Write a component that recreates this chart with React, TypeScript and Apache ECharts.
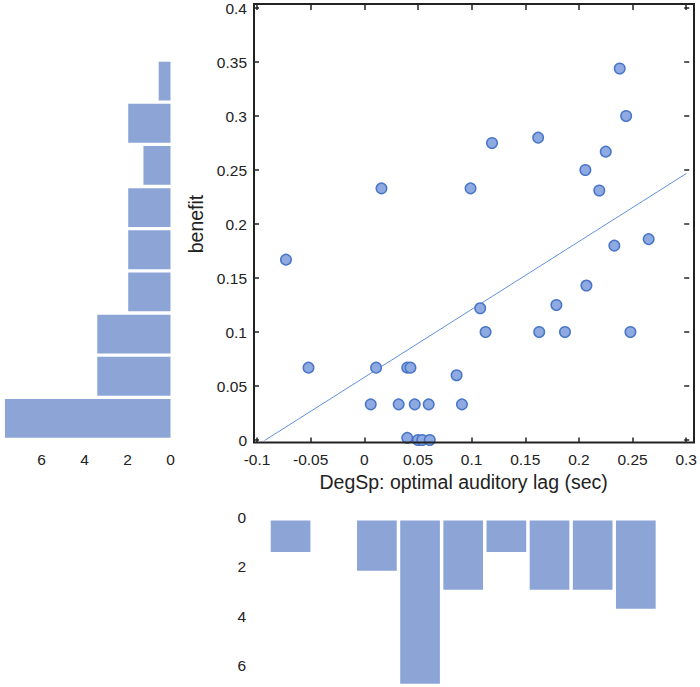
import React, { useEffect, useRef } from "react";
import * as echarts from "echarts";

// Scatter data: DegSp optimal auditory lag (sec) vs benefit
const lagX = [
  0.016, 0.099, 0.119, 0.162, 0.206, 0.219, 0.225, 0.238, 0.244, 0.265,
  -0.073, 0.233, 0.207, 0.179, 0.108, 0.113, 0.163, 0.187, 0.248,
  -0.052, 0.011, 0.040, 0.043, 0.086,
  0.006, 0.032, 0.047, 0.060, 0.091,
  0.040, 0.050, 0.054, 0.061,
];
const benefitY = [
  0.233, 0.233, 0.275, 0.280, 0.250, 0.231, 0.267, 0.344, 0.300, 0.186,
  0.167, 0.180, 0.143, 0.125, 0.122, 0.100, 0.100, 0.100, 0.100,
  0.067, 0.067, 0.067, 0.067, 0.060,
  0.033, 0.033, 0.033, 0.033, 0.033,
  0.002, 0.000, 0.000, 0.000,
];

// Least-squares line
const fitSlope = 0.629;
const fitIntercept = 0.058;
const fitXRange = [-0.1, 0.3];

// Left histogram (benefit bins, from low to high)
const benefitBins = ["0.02", "0.06", "0.10", "0.14", "0.18", "0.21", "0.25", "0.29", "0.33"];
const benefitHist = [7.71, 3.41, 3.41, 1.97, 1.97, 1.97, 1.26, 1.97, 0.55];

// Bottom histogram (lag bins, from low to high)
const lagBins = ["-0.07", "-0.03", "0.01", "0.05", "0.09", "0.13", "0.17", "0.21", "0.25"];
const lagHist = [1.27, 0, 2.03, 6.58, 2.79, 1.27, 2.79, 2.79, 3.56];

// Tick settings
const xTicks = { min: -0.1, max: 0.3, interval: 0.05 };
const yTicks = { min: 0, max: 0.4, interval: 0.05 };

const FONT = "Liberation Sans";
const TXT = "#222222";
const BAR = "#8ca5d6";

export default function App() {
  const ref = useRef<HTMLDivElement>(null);
  useEffect(() => {
    if (!ref.current) return;
    const chart = echarts.init(ref.current, null, { renderer: "svg" });
    const evenLabel = (v: number) =>
      Math.abs(v - Math.round(v)) < 1e-9 && Math.round(v) % 2 === 0 ? String(Math.round(v)) : "";
    const tickInside = { show: true, inside: true, length: 5, lineStyle: { color: TXT, width: 1.5 } };
    const noLine = { show: false, onZero: false };
    const lbl = { color: TXT, fontFamily: FONT, fontSize: 15.5 };
    const nameStyle = { color: TXT, fontFamily: FONT, fontSize: 19.5 };
    const option: any = {
      animation: false,
      backgroundColor: "#ffffff",
      textStyle: { fontFamily: FONT },
      graphic: [
        {
          type: "rect",
          shape: { x: 254, y: 4, width: 440, height: 438.5 },
          style: { fill: "none", stroke: TXT, lineWidth: 2 },
          z: 10,
        },
      ],
      grid: [
        { left: 257, right: 9, top: 7, bottom: 247 },
        { left: 2, right: 529.5, top: 60, bottom: 247.5 },
        { left: 269, right: 42.6, top: 520.5, bottom: 2.8 },
      ],
      xAxis: [
        {
          type: "value",
          gridIndex: 0,
          min: xTicks.min,
          max: xTicks.max,
          interval: xTicks.interval,
          position: "bottom",
          offset: 2.5,
          axisLine: noLine,
          axisTick: tickInside,
          splitLine: { show: false },
          axisLabel: { ...lbl, margin: 9 },
          name: "DegSp: optimal auditory lag (sec)",
          nameLocation: "middle",
          nameGap: 26,
          nameTextStyle: { ...nameStyle, padding: [0, 16, 0, 0] },
        },
        {
          type: "value",
          gridIndex: 0,
          min: xTicks.min,
          max: xTicks.max,
          interval: xTicks.interval,
          position: "top",
          offset: 3,
          axisLine: noLine,
          axisTick: tickInside,
          splitLine: { show: false },
          axisLabel: { show: false },
        },
        {
          type: "value",
          gridIndex: 1,
          min: 0,
          max: 7.8,
          interval: 2,
          inverse: true,
          position: "bottom",
          axisLine: noLine,
          axisTick: { show: false },
          splitLine: { show: false },
          axisLabel: { ...lbl, margin: 12, formatter: evenLabel },
        },
        {
          type: "category",
          gridIndex: 2,
          data: lagBins,
          show: false,
          axisLine: noLine,
        },
      ],
      yAxis: [
        {
          type: "value",
          gridIndex: 0,
          min: yTicks.min,
          max: yTicks.max,
          interval: yTicks.interval,
          position: "left",
          offset: 3,
          axisLine: noLine,
          axisTick: tickInside,
          splitLine: { show: false },
          axisLabel: { ...lbl, margin: 7 },
          name: "benefit",
          nameLocation: "middle",
          nameGap: 40,
          nameRotate: 90,
          nameTextStyle: nameStyle,
        },
        {
          type: "value",
          gridIndex: 0,
          min: yTicks.min,
          max: yTicks.max,
          interval: yTicks.interval,
          position: "right",
          offset: 3,
          axisLine: noLine,
          axisTick: tickInside,
          splitLine: { show: false },
          axisLabel: { show: false },
        },
        {
          type: "category",
          gridIndex: 1,
          data: benefitBins,
          show: false,
          axisLine: noLine,
        },
        {
          type: "value",
          gridIndex: 2,
          min: 0,
          max: 6.6,
          interval: 2,
          inverse: true,
          axisLine: noLine,
          axisTick: { show: false },
          splitLine: { show: false },
          axisLabel: {
            ...lbl,
            margin: 23,
            verticalAlign: "bottom",
            lineHeight: 7,
            formatter: evenLabel,
          },
        },
      ],
      series: [
        {
          type: "line",
          xAxisIndex: 0,
          yAxisIndex: 0,
          data: fitXRange.map((x) => [x, fitIntercept + fitSlope * x]),
          showSymbol: false,
          symbol: "none",
          clip: true,
          lineStyle: { color: "#6290dc", width: 1 },
          z: 2,
        },
        {
          type: "scatter",
          xAxisIndex: 0,
          yAxisIndex: 0,
          data: lagX.map((x, i) => [x, benefitY[i]]),
          symbol: "circle",
          symbolSize: 10.5,
          clip: false,
          itemStyle: { color: "#8eaae0", borderColor: "#4a76c9", borderWidth: 1.5, opacity: 1 },
          z: 3,
        },
        {
          type: "bar",
          xAxisIndex: 2,
          yAxisIndex: 2,
          data: benefitHist,
          barCategoryGap: "8%",
          itemStyle: { color: BAR },
        },
        {
          type: "bar",
          xAxisIndex: 3,
          yAxisIndex: 3,
          data: lagHist,
          barCategoryGap: "8%",
          itemStyle: { color: BAR },
        },
      ],
    };
    chart.setOption(option);
    return () => chart.dispose();
  }, []);
  return (
    <div
      ref={ref}
      style={{ position: "fixed", left: 0, top: 0, width: 700, height: 687, background: "#fff" }}
    />
  );
}
